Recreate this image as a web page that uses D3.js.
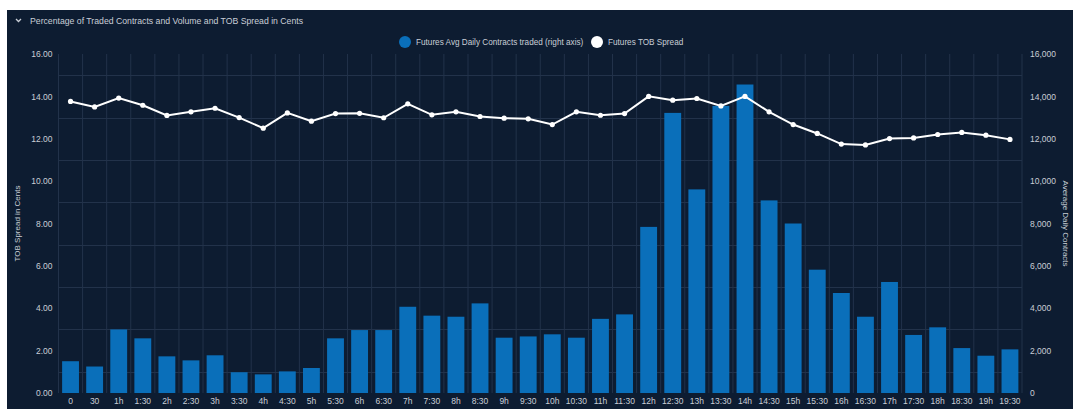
<!DOCTYPE html>
<html>
<head>
<meta charset="utf-8">
<script src="https://cdn.jsdelivr.net/npm/d3@7"></script>
<style>
  html, body { margin: 0; padding: 0; background: #ffffff; }
  svg { display: block; font-family: "Liberation Sans", Arial, sans-serif; }
</style>
</head>
<body>
<svg id="chart" width="1073" height="409"></svg>
<script>
// Half-hour buckets of the trading day
const categories = ["0","30","1h","1:30","2h","2:30","3h","3:30","4h","4:30",
  "5h","5:30","6h","6:30","7h","7:30","8h","8:30","9h","9:30",
  "10h","10:30","11h","11:30","12h","12:30","13h","13:30","14h","14:30",
  "15h","15:30","16h","16:30","17h","17:30","18h","18:30","19h","19:30"];

// Futures average daily contracts traded (right axis)
const avgDailyContracts = [1500,1250,3000,2580,1730,1540,1780,980,880,1020,
  1180,2580,2970,2970,4070,3650,3600,4230,2610,2670,
  2770,2610,3500,3710,7840,13220,9610,13550,14560,9090,
  8000,5820,4720,3600,5240,2740,3100,2120,1760,2060];

// Futures top-of-book spread in cents (left axis)
const tobSpread = [13.76,13.50,13.92,13.58,13.10,13.27,13.44,13.00,12.50,13.22,
  12.83,13.19,13.20,12.99,13.65,13.13,13.27,13.05,12.97,12.94,
  12.67,13.27,13.11,13.19,14.00,13.82,13.90,13.55,14.00,13.27,
  12.67,12.25,11.75,11.71,12.01,12.04,12.20,12.30,12.17,11.97];

const leftTicks = [0,2,4,6,8,10,12,14,16];
const rightTicks = [0,2000,4000,6000,8000,10000,12000,14000,16000];
const gridValues = [1,3,5,7,9,11,13,15];

const titleText = "Percentage of Traded Contracts and Volume and TOB Spread in Cents";
const seriesNames = ["Futures Avg Daily Contracts traded (right axis)", "Futures TOB Spread"];
const leftAxisTitle = "TOB Spread in Cents";
const rightAxisTitle = "Average Daily Contracts";

const W = 1073, H = 409;
const plot = { left: 58.5, right: 1022, top: 54, bottom: 393 };
const colors = { bg: "#0d1c31", grid: "#22324a", bar: "#0a6fba", line: "#ffffff", text: "#c9ced6" };

const svg = d3.select("#chart");

// dark panel with a thin white margin on the top and left
svg.append("rect").attr("x", 7).attr("y", 10).attr("width", W - 7).attr("height", H - 10)
  .attr("fill", colors.bg);

const x = d3.scaleBand().domain(categories).range([plot.left, plot.right]).paddingInner(0.3).paddingOuter(0.15);
const xStep = x.step();
const yLeft = d3.scaleLinear().domain([0, 16]).range([plot.bottom, plot.top]);
const yRight = d3.scaleLinear().domain([0, 16000]).range([plot.bottom, plot.top]);

// vertical grid at category boundaries
const g = svg.append("g");
const bounds = categories.map(c => x(c) - x.paddingInner() * xStep / 2);
bounds.push(plot.right);
g.selectAll("line.v").data(bounds).join("line")
  .attr("x1", d => d).attr("x2", d => d)
  .attr("y1", plot.top).attr("y2", plot.bottom)
  .attr("stroke", colors.grid).attr("stroke-width", 1);

// horizontal grid
g.selectAll("line.h").data(gridValues).join("line")
  .attr("x1", plot.left).attr("x2", plot.right)
  .attr("y1", d => Math.round(yLeft(d)) + 0.5).attr("y2", d => Math.round(yLeft(d)) + 0.5)
  .attr("stroke", colors.grid).attr("stroke-width", 1);

// bars
svg.append("g").selectAll("rect").data(avgDailyContracts).join("rect")
  .attr("x", (d, i) => x(categories[i]))
  .attr("width", x.bandwidth())
  .attr("y", d => yRight(d))
  .attr("height", d => plot.bottom - yRight(d))
  .attr("fill", colors.bar);

// spread line
const cx = i => x(categories[i]) + x.bandwidth() / 2;
const line = d3.line().x((d, i) => cx(i)).y(d => yLeft(d));
svg.append("path").datum(tobSpread)
  .attr("d", line).attr("fill", "none")
  .attr("stroke", colors.line).attr("stroke-width", 2);
svg.append("g").selectAll("circle").data(tobSpread).join("circle")
  .attr("cx", (d, i) => cx(i)).attr("cy", d => yLeft(d)).attr("r", 2.6)
  .attr("fill", colors.line);

// axes
const axisLeft = d3.axisLeft(yLeft).tickValues(leftTicks).tickFormat(d3.format(".2f")).tickSize(0).tickPadding(6);
const axisRight = d3.axisRight(yRight).tickValues(rightTicks).tickFormat(d3.format(",")).tickSize(0).tickPadding(8);
const axisBottom = d3.axisBottom(x).tickSize(0).tickPadding(5);

function styleAxis(sel) {
  sel.select(".domain").remove();
  sel.selectAll("text").attr("fill", colors.text).style("font-size", "8.5px");
}
svg.append("g").attr("transform", `translate(${plot.left},0)`).call(axisLeft).call(styleAxis);
svg.append("g").attr("transform", `translate(${plot.right},0)`).call(axisRight).call(styleAxis);
svg.append("g").attr("transform", `translate(0,${plot.bottom})`).call(axisBottom).call(styleAxis);

// axis titles
svg.append("text").attr("transform", `translate(20,${(plot.top + plot.bottom) / 2}) rotate(-90)`)
  .attr("text-anchor", "middle").attr("fill", colors.text).style("font-size", "8px").text(leftAxisTitle);
svg.append("text").attr("transform", `translate(1063,${(plot.top + plot.bottom) / 2}) rotate(90)`)
  .attr("text-anchor", "middle").attr("fill", colors.text).style("font-size", "8px").text(rightAxisTitle);

// title with collapse chevron
svg.append("path").attr("d", "M16,19 L18.5,21.5 L21,19").attr("fill", "none")
  .attr("stroke", colors.text).attr("stroke-width", 1.3);
svg.append("text").attr("x", 30).attr("y", 24).attr("fill", colors.text)
  .style("font-size", "8.7px").text(titleText);

// legend
const legend = svg.append("g");
const legendItems = [
  { name: seriesNames[0], color: colors.bar, cx: 405 },
  { name: seriesNames[1], color: colors.line, cx: 597 }
];
legendItems.forEach(it => {
  legend.append("circle").attr("cx", it.cx).attr("cy", 42).attr("r", 6).attr("fill", it.color);
  legend.append("text").attr("x", it.cx + 11).attr("y", 45).attr("fill", colors.text)
    .style("font-size", "8.2px").text(it.name);
});
</script>
</body>
</html>
